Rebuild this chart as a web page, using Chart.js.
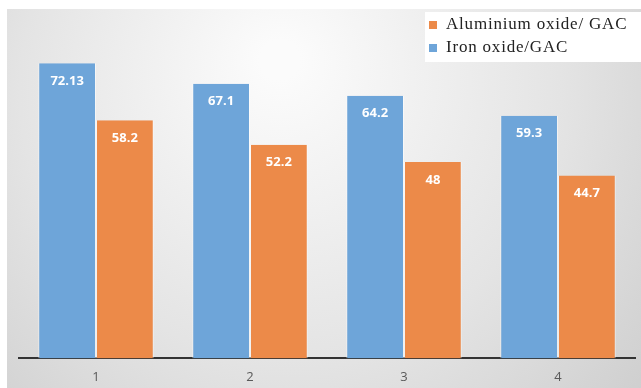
<!DOCTYPE html>
<html>
<head>
<meta charset="utf-8">
<script src="https://cdn.jsdelivr.net/npm/chart.js@4/dist/chart.umd.min.js"></script>
<style>
  html, body { margin: 0; padding: 0; background: #fff; }
  #wrap { width: 641px; height: 388px; }
</style>
</head>
<body>
<div id="wrap"><canvas id="chart" width="641" height="388"></canvas></div>
<script>
var categories = ['1', '2', '3', '4'];
var ironValues = [72.13, 67.1, 64.2, 59.3];
var aluminiumValues = [58.2, 52.2, 48, 44.7];
var seriesNames = ['Iron oxide/GAC', 'Aluminium oxide/ GAC'];

var blue = '#6ea5d9';
var orange = '#ec8a49';

// gray gradient panel behind everything
var backdrop = {
    id: 'backdrop',
    beforeDraw: function (chart) {
        var ctx = chart.ctx;
        ctx.save();
        ctx.fillStyle = '#ffffff';
        ctx.fillRect(0, 0, chart.width, chart.height);
        var g = ctx.createRadialGradient(280, 60, 20, 300, 120, 520);
        g.addColorStop(0, '#fbfbfb');
        g.addColorStop(0.5, '#e4e4e4');
        g.addColorStop(1, '#c6c6c6');
        ctx.fillStyle = g;
        ctx.fillRect(7, 9, chart.width - 7, chart.height - 9);
        ctx.restore();
    }
};

// white value text near the top of each bar
var barLabels = {
    id: 'barLabels',
    afterDatasetsDraw: function (chart) {
        var ctx = chart.ctx;
        ctx.save();
        ctx.fillStyle = '#ffffff';
        ctx.font = 'bold 13px "Open Sans", sans-serif';
        ctx.textAlign = 'center';
        ctx.textBaseline = 'middle';
        chart.data.datasets.forEach(function (ds, i) {
            chart.getDatasetMeta(i).data.forEach(function (bar, j) {
                ctx.fillText(String(ds.data[j]), bar.x, bar.y + 18);
            });
        });
        ctx.restore();
    }
};

// legend box in the top right corner
var cornerLegend = {
    id: 'cornerLegend',
    afterDraw: function (chart) {
        var ctx = chart.ctx;
        ctx.save();
        ctx.fillStyle = '#ffffff';
        ctx.fillRect(425, 12, 216, 50);
        var items = [
            { text: seriesNames[1], color: orange, y: 25 },
            { text: seriesNames[0], color: blue, y: 48 }
        ];
        ctx.font = '17px "Liberation Serif", serif';
        ctx.letterSpacing = '0.8px';
        ctx.textBaseline = 'middle';
        items.forEach(function (it) {
            ctx.fillStyle = it.color;
            ctx.fillRect(429, it.y - 4, 8, 8);
            ctx.fillStyle = '#222222';
            ctx.fillText(it.text, 446, it.y);
        });
        ctx.restore();
    }
};

new Chart(document.getElementById('chart'), {
    type: 'bar',
    data: {
        labels: categories,
        datasets: [
            {
                label: seriesNames[0],
                data: ironValues,
                backgroundColor: blue,
                borderColor: 'rgba(255,255,255,0.5)',
                borderWidth: { left: 1, right: 1, top: 0, bottom: 0 },
                categoryPercentage: 0.75,
                barPercentage: 1.0
            },
            {
                label: seriesNames[1],
                data: aluminiumValues,
                backgroundColor: orange,
                borderColor: 'rgba(255,255,255,0.5)',
                borderWidth: { left: 1, right: 1, top: 0, bottom: 0 },
                categoryPercentage: 0.75,
                barPercentage: 1.0
            }
        ]
    },
    options: {
        responsive: false,
        animation: false,
        layout: { padding: { left: 19, right: 6, top: 31, bottom: 0 } },
        plugins: {
            legend: { display: false },
            tooltip: { enabled: false }
        },
        scales: {
            x: {
                grid: { display: false },
                border: { display: true, color: '#333333', width: 2 },
                ticks: {
                    color: '#595959',
                    padding: 3,
                    font: { family: '"Open Sans", sans-serif', size: 13 }
                }
            },
            y: {
                display: false,
                min: 0,
                max: 80
            }
        }
    },
    plugins: [backdrop, barLabels, cornerLegend]
});
</script>
</body>
</html>
